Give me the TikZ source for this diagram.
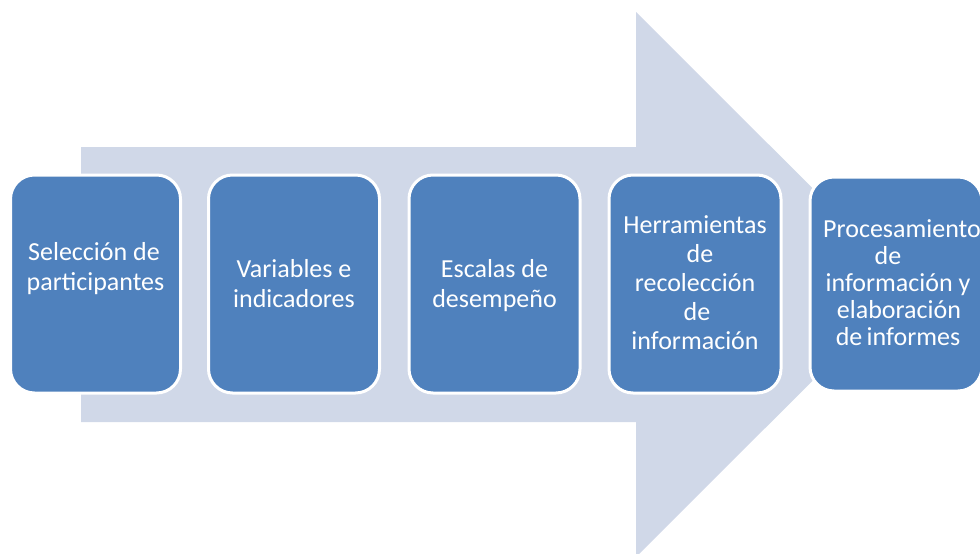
\documentclass[tikz,border=0pt]{standalone}
\usepackage{fontspec}
\setmainfont{Carlito}
\begin{document}
\begin{tikzpicture}[x=1pt,y=-1pt,
  arrowshape/.style={fill=arrowc,draw=none},
  stepbox/.style={rectangle,rounded corners=24pt,fill=boxc,draw=white,line width=3pt,inner sep=0pt},
  txt/.style={anchor=base,text=white,inner sep=0pt,font=\fontsize{26}{30}\selectfont}]
\definecolor{arrowc}{HTML}{D0D8E8}
\definecolor{boxc}{HTML}{4F81BD}
\useasboundingbox (0,0) rectangle (980,554);
\clip (0,0) rectangle (980,554);
% big arrow
\coordinate (a1) at (81,147);
\coordinate (a2) at (636,147);
\coordinate (a3) at (636,12);
\coordinate (a4) at (909,284.5);
\coordinate (a5) at (636,557);
\coordinate (a6) at (636,422);
\coordinate (a7) at (81,422);
\fill[arrowshape] (a1) -- (a2) -- (a3) -- (a4) -- (a5) -- (a6) -- (a7) -- cycle;
% boxes
\node[stepbox,minimum width=170pt,minimum height=218pt] (b1) at (95.5,284) {};
\node[stepbox,minimum width=171pt,minimum height=218pt] (b2) at (294,284) {};
\node[stepbox,minimum width=171pt,minimum height=218pt] (b3) at (494.5,284) {};
\node[stepbox,minimum width=172pt,minimum height=218pt] (b4) at (695,284) {};
\node[stepbox,minimum width=172pt,minimum height=214pt] (b5) at (896,284) {};
% texts
\node[txt] (t1a) at (94,260) {Selección de};
\node[txt] (t1b) at (95.5,290) {participantes};
\node[txt] (t2a) at (294,277) {Variables e};
\node[txt] (t2b) at (294,307) {indicadores};
\node[txt] (t3a) at (494.5,277) {Escalas de};
\node[txt] (t3b) at (494.5,307) {desempeño};
\node[txt] (t4a) at (695,233) {Herramientas};
\node[txt] (t4b) at (700,262) {de};
\node[txt] (t4c) at (695,291) {recolección};
\node[txt] (t4d) at (697,320) {de};
\node[txt] (t4e) at (695,349) {información};
\node[txt] (t5a) at (902,237) {Procesamiento};
\node[txt] (t5b) at (888,264) {de};
\node[txt] (t5c) at (898,291) {información y};
\node[txt] (t5d) at (899,318) {elaboración};
\node[txt] (t5e) at (898,345) {de\,informes};
\end{tikzpicture}
\end{document}
